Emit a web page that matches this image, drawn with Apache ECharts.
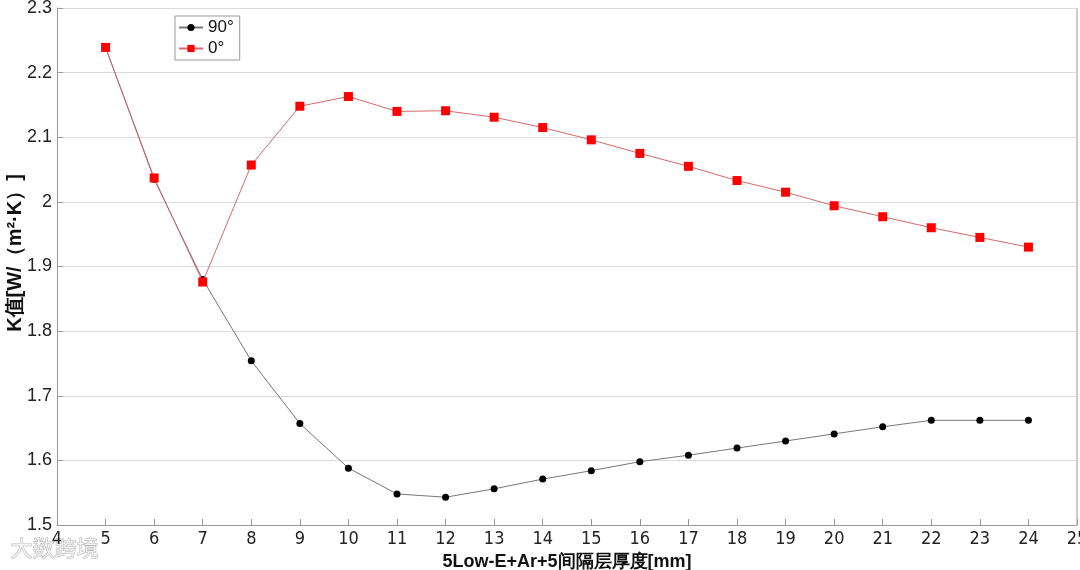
<!DOCTYPE html>
<html>
<head>
<meta charset="utf-8">
<script src="https://cdn.jsdelivr.net/npm/echarts@6/dist/echarts.min.js"></script>
<style>html,body{margin:0;padding:0;background:#fff}#c{width:1080px;height:570px}</style>
</head>
<body>
<div id="c"></div>
<script>
const thickness = [5,6,7,8,9,10,11,12,13,14,15,16,17,18,19,20,21,22,23,24];
const k90 = [2.239,2.035,1.880,1.754,1.657,1.588,1.548,1.543,1.556,1.571,1.584,1.598,1.608,1.619,1.630,1.641,1.652,1.662,1.662,1.662];
const k0 = [2.239,2.037,1.876,2.057,2.148,2.163,2.140,2.141,2.131,2.115,2.096,2.075,2.055,2.033,2.015,1.994,1.977,1.960,1.945,1.930];
const seriesNames = ['90°','0°'];
const xName = '5Low-E+Ar+5间隔层厚度[mm]';
const yName = 'K值[W/（m²·K）]';

const chart = echarts.init(document.getElementById('c'));
const font = '"Liberation Sans", Arial, sans-serif';
chart.setOption({
  animation: false,
  backgroundColor: '#fff',
  grid: { left: 57, right: 3, top: 8, bottom: 45, containLabel: false, outerBoundsMode: 'none' },
  legend: {
    left: 175, top: 16, orient: 'vertical',
    backgroundColor: '#fff', borderColor: '#999', borderWidth: 1,
    padding: [3, 6, 3, 3], itemGap: 4, itemWidth: 24, itemHeight: 9,
    textStyle: { fontFamily: font, fontSize: 17, color: '#111' },
    data: seriesNames
  },
  xAxis: {
    type: 'value', min: 4, max: 25, interval: 1,
    name: xName, nameLocation: 'middle', nameGap: 28,
    nameTextStyle: { fontFamily: font, fontSize: 18, fontWeight: 'bold', color: '#111' },
    axisLine: { lineStyle: { color: '#999', width: 1 } },
    axisTick: { inside: true, length: 6, lineStyle: { color: '#999' } },
    axisLabel: { fontFamily: '"Liberation Sans Narrow", "DejaVu Sans Condensed", sans-serif', fontSize: 18, color: '#222', margin: 5 },
    splitLine: { show: false }
  },
  yAxis: {
    type: 'value', min: 1.5, max: 2.3, interval: 0.1,
    axisLine: { show: true, lineStyle: { color: '#999', width: 1 } },
    axisTick: { show: true, inside: true, length: 6, lineStyle: { color: '#999' } },
    axisLabel: { fontFamily: font, fontSize: 18, color: '#222', margin: 5,
      formatter: v => String(Math.round(v * 10) / 10) },
    splitLine: { show: true, lineStyle: { color: '#dcdcdc', width: 1 } }
  },
  graphic: [
    { type: 'line', shape: { x1: 1077, y1: 8, x2: 1077, y2: 525 }, style: { stroke: '#999', lineWidth: 1 } },
    { type: 'text', x: 15, y: 253, rotation: Math.PI / 2,
      style: { text: yName, fontFamily: font, fontSize: 20, fontWeight: 'bold', fill: '#111', align: 'center', verticalAlign: 'middle' } },
    { type: 'text', left: 10, top: 536, style: { text: '大数跨境', fontSize: 22, fill: 'rgba(255,255,255,0.6)', stroke: '#bbb', lineWidth: 1, fontFamily: '"Noto Sans CJK SC"' } }
  ],
  series: [
    {
      name: seriesNames[0], type: 'line', data: thickness.map((x, i) => [x, k90[i]]),
      symbol: 'circle', symbolSize: 7,
      itemStyle: { color: '#000' },
      lineStyle: { color: '#777', width: 1 }, z: 2
    },
    {
      name: seriesNames[1], type: 'line', data: thickness.map((x, i) => [x, k0[i]]),
      symbol: 'rect', symbolSize: 9,
      itemStyle: { color: '#ff0000' },
      lineStyle: { color: '#d46a6a', width: 1 }, z: 3
    }
  ]
});
</script>
</body>
</html>
